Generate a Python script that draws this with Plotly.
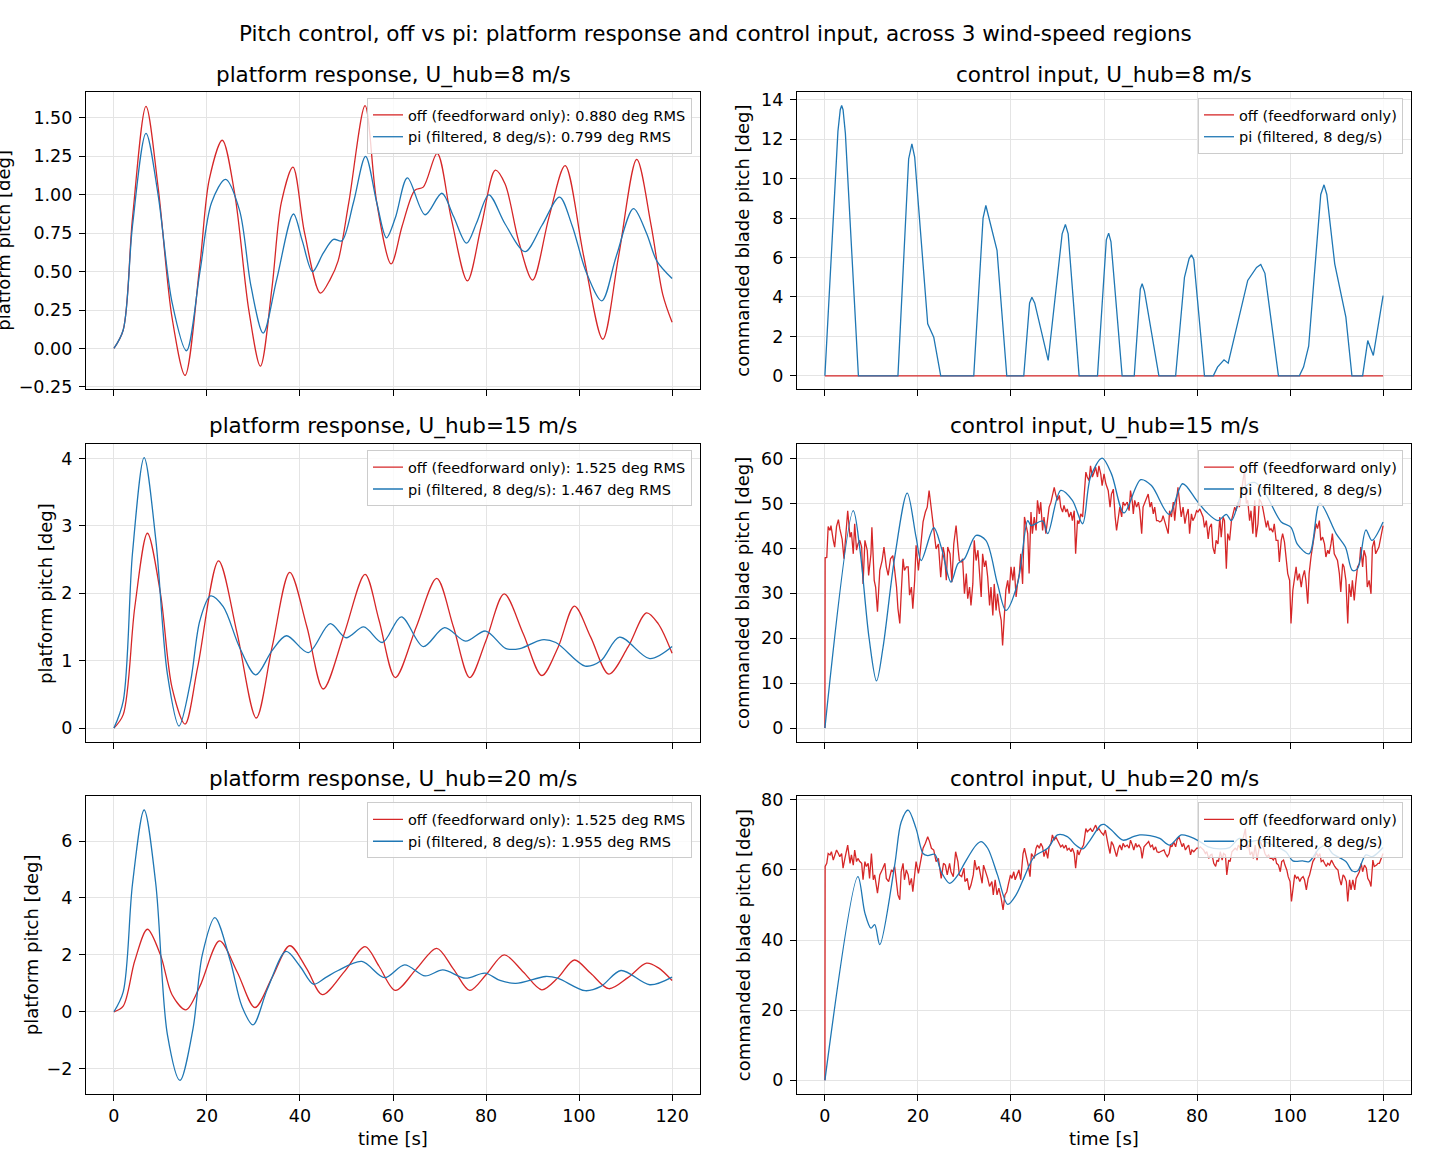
import plotly.graph_objects as go

# ---------------- data (time [s], value) ----------------
time_ticks = [0, 20, 40, 60, 80, 100, 120]

tl_off = [(0,0),(2,0.12),(4,0.85),(6.9,1.575),(9.5,1.05),(12.5,0.2),(15.3,-0.175),(18.5,0.55),(20.5,1.1),(23.3,1.355),(26,1.0),(29,0.25),(31.5,-0.115),(34,0.4),(36,0.95),(38.5,1.18),(41,0.75),(44.4,0.36),(46.5,0.45),(48.2,0.57),(50.5,0.95),(54,1.58),(56.5,0.95),(59.6,0.55),(62,0.8),(64.7,1.03),(66.5,1.05),(69.5,1.27),(72.5,0.85),(76,0.44),(79,0.8),(82,1.16),(84.1,1.07),(87,0.7),(90,0.445),(93.5,0.85),(97,1.19),(101,0.6),(105.1,0.06),(108.5,0.6),(112.4,1.23),(115.5,0.8),(118,0.35),(120,0.17)]
tl_pi = [(0,0),(2,0.12),(4,0.8),(6.9,1.40),(9.5,1.0),(12.5,0.3),(15.6,-0.015),(18.5,0.5),(21,0.95),(24,1.10),(27,0.9),(29.5,0.4),(32.1,0.10),(35,0.45),(38.6,0.875),(40.5,0.7),(42.7,0.50),(45,0.62),(47.2,0.71),(49,0.70),(51.5,0.95),(54.1,1.25),(56.5,0.95),(58.6,0.72),(60.5,0.85),(63.1,1.11),(66.9,0.87),(70.5,1.01),(73,0.86),(75.8,0.685),(78,0.82),(80.6,1.0),(84.1,0.81),(88.4,0.63),(92,0.8),(95.8,0.985),(98.5,0.8),(101.5,0.5),(104.9,0.31),(108,0.6),(111.7,0.91),(114.5,0.75),(116.7,0.57),(120,0.455)]

tr_off = [(0,0),(120,0)]
tr_pi = [(0,0),(2.8,12.4),(3.3,13.5),(3.6,13.71),(3.9,13.5),(4.4,12.3),(7.2,0),(15.7,0),(18.0,11.0),(18.7,11.77),(19.3,11.1),(22.1,2.64),(23.4,1.96),(24.9,0),(32.0,0),(34.0,8.0),(34.6,8.64),(35.2,8.1),(37,6.36),(39.1,0),(42.75,0),(44.0,3.7),(44.5,3.99),(45.1,3.7),(48,0.78),(51.0,7.2),(51.7,7.68),(52.3,7.2),(54.65,0),(58.6,0),(60.5,6.9),(61,7.24),(61.5,6.8),(63.9,0),(66.5,0),(67.8,4.4),(68.2,4.67),(68.7,4.3),(71.8,0),(75.4,0),(77.3,5.0),(78.3,5.95),(78.8,6.14),(79.3,5.9),(81.6,0),(83.5,0),(84.4,0.44),(85.8,0.81),(86.7,0.64),(90.9,4.84),(92.8,5.5),(93.7,5.65),(94.6,5.2),(97.5,0),(102,0),(102.9,0.44),(104,1.5),(106.6,9.2),(107.3,9.69),(107.9,9.2),(109.6,5.68),(112,2.98),(113.3,0),(115.6,0),(116.7,1.79),(117.9,1.03),(120,4.07)]

ml_off = [(0,0),(2,0.2),(4.5,1.8),(7.2,2.89),(10,2.0),(12.5,0.6),(15.3,0.06),(18,0.9),(22.5,2.48),(26.5,1.4),(30.6,0.15),(34,1.2),(37.8,2.31),(41.5,1.5),(45.0,0.58),(49.5,1.4),(54.0,2.28),(57,1.6),(60.5,0.75),(65,1.5),(69.4,2.22),(73,1.5),(76.5,0.75),(80,1.3),(83.9,1.99),(88,1.4),(92,0.78),(95.5,1.2),(99,1.81),(102.5,1.35),(106.4,0.80),(110.5,1.2),(114.5,1.71),(117,1.55),(120,1.11)]
ml_pi = [(0,0),(2,0.4),(4,2.6),(6.5,4.01),(9,2.8),(11.5,0.8),(14.0,0.03),(16.5,0.7),(18.5,1.6),(20.8,1.96),(23.5,1.80),(27,1.2),(30.5,0.79),(34,1.15),(37.1,1.37),(41.8,1.12),(46.5,1.55),(49.9,1.34),(53.7,1.50),(57.7,1.27),(61.8,1.65),(66.5,1.21),(71.1,1.49),(75.6,1.29),(79.9,1.44),(84.3,1.18),(87.3,1.18),(92,1.31),(95,1.27),(101.3,0.92),(104.7,1.0),(108.7,1.35),(115.2,1.03),(120,1.21)]

mr_off = [(0,0),(0.05,37.9),(0.4,38),(0.7,44.9),(1.1,44),(1.3,45.1),(1.8,41.8),(2.1,40.3),(2.5,44.9),(2.9,46.4),(3.2,44.4),(3.7,42.1),(4.1,37.7),(4.4,41.8),(4.9,48.4),(5.4,42.5),(5.7,43.6),(6.1,38.8),(6.4,45.5),(6.8,39.6),(7.1,41),(7.5,41.8),(7.9,40.3),(8.2,32.1),(8.6,41.8),(9.1,39.6),(9.4,34),(9.9,38.8),(10.1,44.7),(10.6,32.9),(10.9,31.4),(11.3,25.9),(11.8,35.1),(12.3,37.3),(12.7,40.3),(13.2,35.9),(13.6,34),(14.1,37.7),(14.6,38.4),(15,35.1),(15.4,31.4),(15.7,26.6),(16.1,23.3),(16.4,29.9),(16.8,37.7),(17.1,35.1),(17.5,35.9),(17.9,35.9),(18.2,29.6),(18.6,31.4),(18.9,26.6),(19.3,32.9),(19.6,40.7),(20.1,35.1),(20.6,41),(21.1,45.9),(21.6,48.1),(22,49.2),(22.4,52.9),(22.7,50.3),(23,47.7),(23.4,45.1),(23.9,39.9),(24.4,41),(24.9,33.6),(25.4,40.3),(25.7,38.8),(26.1,32.9),(26.4,40.3),(26.9,38.8),(27.3,32.5),(27.7,41),(28.2,45.1),(28.6,40.3),(28.9,37.3),(29.3,37),(29.6,37.7),(30,29.9),(30.4,34.4),(30.7,28.8),(31.1,31.4),(31.4,27.3),(31.8,32.1),(32.1,41.8),(32.5,37.3),(32.9,39.6),(33.2,35.1),(33.6,29.2),(33.9,38.8),(34.3,35.9),(34.6,37.3),(35,33.6),(35.4,27.3),(35.7,31.4),(36.1,25.1),(36.4,32.1),(36.8,26.2),(37.1,29.9),(37.5,26.2),(37.9,24),(38.2,18.4),(38.6,27),(38.9,30.7),(39.3,32.9),(39.6,29.9),(40,35.9),(40.4,32.9),(40.7,35.9),(41.1,29.2),(41.4,32.1),(41.8,34.4),(42.1,38.8),(42.5,32.1),(42.9,47),(43.2,45.5),(43.6,43.3),(43.9,34.4),(44.3,48.1),(44.6,43.3),(45,47),(45.4,44),(45.7,50.7),(46.1,47.7),(46.4,50.3),(46.8,44),(47.1,47),(47.5,43.3),(47.9,46.2),(48.2,49.2),(48.6,50.3),(48.9,51.8),(49.3,53.6),(49.6,52.1),(50,50.7),(50.4,51.8),(50.7,49.2),(51.1,48.1),(51.4,49.6),(51.8,48.1),(52.1,48.8),(52.5,47),(52.9,48.1),(53.2,46.2),(53.6,48.4),(53.9,38.8),(54.3,46.2),(54.6,45.5),(55,47.7),(55.4,47),(55.7,52.1),(56.1,57),(56.4,55.9),(56.8,55.1),(57.1,58.4),(57.5,55.9),(57.9,57),(58.2,58.1),(58.6,55.9),(58.9,58.4),(59.3,56.6),(59.6,54),(60,56.6),(60.4,54.4),(60.9,52.9),(61.3,49.2),(61.6,52.1),(62,53.2),(62.4,47),(62.7,44),(63.1,47),(63.4,49.2),(63.8,47),(64.1,50.3),(64.5,49.6),(65,50.3),(65.4,48.4),(65.7,52.9),(66.1,50.3),(66.3,47.7),(66.6,50.7),(67,49.2),(67.4,50.3),(67.7,48.4),(68.1,43.3),(68.4,49.2),(68.8,50.3),(69.1,51),(69.5,52.1),(69.9,49.2),(70.2,50.3),(70.6,47.7),(70.9,49.2),(71.3,46.2),(71.6,46.2),(72,45.9),(72.4,46.2),(72.7,47.3),(73.1,45.9),(73.4,44.7),(73.8,43.3),(74.1,48.4),(74.5,47),(74.9,50.3),(75.2,46.2),(75.6,50.7),(75.9,53.6),(76.3,49.9),(76.6,47),(77,49.2),(77.4,45.5),(77.7,47.3),(78.1,48.8),(78.4,43.3),(78.8,47.7),(79.1,46.2),(79.5,47),(79.9,48.4),(80.2,48.1),(80.6,48.8),(80.9,48.1),(81.3,47),(81.6,44.7),(82,46.2),(82.4,42.1),(82.7,44.7),(83.1,45.5),(83.4,40.3),(83.8,38.8),(84.1,41.8),(84.5,41),(84.9,47),(85.2,42.5),(85.6,47),(85.9,46.2),(86.3,35.5),(86.6,43.3),(87,41.8),(87.4,46.2),(87.7,47.7),(88.1,49.2),(88.4,48.4),(88.8,50.3),(89.1,49.2),(89.5,52.1),(89.9,55.1),(90.2,57.5),(90.6,50),(90.9,50.7),(91.3,46.2),(91.6,48.4),(92,43.3),(92.4,50.7),(92.7,42.5),(93.1,45.5),(93.4,51),(93.8,50.3),(94.1,49.2),(94.5,47),(94.9,44.7),(95.2,46.2),(95.6,44),(95.9,44.4),(96.3,43.6),(96.6,45.5),(97,41.8),(97.4,41.8),(97.7,37),(98.1,41.8),(98.4,43.3),(98.8,41.4),(99.1,38.1),(99.5,34.4),(99.9,32.9),(100.2,23.3),(100.6,30.7),(100.9,33.6),(101.3,35.9),(101.6,32.9),(102,34.4),(102.4,31.4),(102.7,33.6),(103.1,35.1),(103.4,32.9),(103.8,27.7),(104.1,34.4),(104.5,38.1),(104.9,41),(105.2,43.3),(105.6,45.5),(105.9,44.4),(106.3,46.2),(106.6,41.8),(107,42.5),(107.4,41),(107.7,38.1),(108.1,39.6),(108.4,38.8),(108.8,41),(109.1,43.3),(109.5,38.8),(109.9,38.1),(110.2,37.3),(110.6,34.4),(110.9,30.3),(111.3,36.6),(111.6,35.9),(112,32.9),(112.4,23.3),(112.7,32.1),(113.1,29.2),(113.4,32.9),(113.8,28.4),(114.1,32.1),(114.5,35.9),(114.9,36.6),(115.2,40.3),(115.6,35.9),(115.9,39.6),(116.3,38.1),(116.6,31.4),(117,32.9),(117.4,29.9),(117.7,40.3),(118.1,41.8),(118.4,38.8),(118.8,39.6),(119.1,40.3),(120,45.1)]
mr_pi = [(0,0),(6.1,48.4),(7.5,40),(9.5,20),(11.1,10.5),(12.5,18),(15,38),(17.7,52.3),(19.6,42.5),(20.7,37.3),(23.4,44.6),(25,40.3),(27.1,32.5),(28.6,36.6),(30,37.7),(32.5,42.9),(34.6,41.8),(37.1,32.1),(38.9,26.2),(41.4,32.1),(43.6,46.2),(44.3,45.1),(46.8,46.1),(47.9,43.3),(50.7,52.9),(53.2,50.7),(55.4,45.5),(57.1,55.9),(59.6,60.1),(61.6,56.6),(64.3,47.9),(67.9,55.3),(70.2,54),(74,47.6),(76.9,54.4),(79.9,50.7),(82,48.1),(84.5,46.2),(86.3,47.6),(87.4,46.2),(90.2,53.6),(92.4,54.7),(94.9,51.8),(98.1,45.9),(100.2,44.7),(101.6,40.9),(104.1,38.8),(106.4,50.1),(109.9,43.3),(111.9,40.3),(113.4,35.1),(114.5,35.5),(116.3,44.1),(117.6,41.8),(120,45.9)]

bl_off = [(0,0),(2,0.2),(4.5,1.8),(7.2,2.90),(10,2.0),(12.5,0.6),(15.5,0.07),(18.5,0.9),(22.7,2.49),(26.5,1.4),(30.3,0.15),(34,1.2),(37.8,2.32),(41.5,1.5),(44.8,0.60),(49.5,1.4),(54.0,2.29),(57,1.6),(60.5,0.75),(65,1.5),(69.4,2.23),(73,1.5),(76.5,0.75),(80,1.3),(83.9,2.0),(88,1.4),(92,0.77),(95.5,1.2),(99,1.82),(102.5,1.35),(106.4,0.81),(110.5,1.2),(114.5,1.71),(117,1.55),(120,1.10)]
bl_pi = [(0,0),(2,0.7),(4,4.5),(6.5,7.09),(9,4.5),(11.5,-0.8),(14.2,-2.41),(17,-0.6),(19,2.0),(21.7,3.31),(25,1.8),(27.5,0.2),(29.9,-0.46),(33,0.8),(37.0,2.12),(40,1.6),(42.9,0.97),(45.5,1.2),(48.2,1.45),(53.3,1.77),(58.2,1.20),(62.5,1.65),(66.9,1.26),(70.7,1.47),(75.6,1.18),(79.8,1.36),(83,1.1),(86.4,1.0),(92.8,1.24),(95.4,1.18),(101.3,0.74),(104.7,0.89),(109,1.45),(115.2,0.95),(120,1.22)]

br_off = [(0,0),(0.05,61),(0.4,61.9),(0.7,64.7),(1.1,64.3),(1.4,65.2),(1.8,62.8),(2.1,63.8),(2.5,65.7),(2.9,64.7),(3.2,63.8),(3.6,64.7),(3.9,60.5),(4.3,63.3),(4.9,67.1),(5.4,61.9),(5.7,64.3),(6.1,61.4),(6.4,65.7),(6.8,62.4),(7.1,63.3),(7.5,62.4),(7.9,61.9),(8.2,57.2),(8.6,62.4),(8.9,61),(9.3,61.9),(9.6,57.6),(10,64.7),(10.4,57.2),(10.7,58.6),(11.3,53.4),(11.8,58.6),(12.3,60),(12.9,61.9),(13.2,57.6),(13.7,56.7),(14.3,60),(14.6,59.5),(15,61),(15.4,56.2),(15.7,52.9),(16.1,51.5),(16.4,59.5),(16.8,61.9),(17.1,57.2),(17.5,60),(17.9,58.6),(18.2,55.7),(18.6,57.6),(18.9,53.8),(19.3,58.6),(19.6,62.4),(20.1,59),(20.6,62.8),(21.1,66.2),(21.6,67.6),(22.1,69.5),(22.5,68.1),(22.9,66.2),(23.4,65.7),(23.9,62.4),(24.4,63.3),(25,57.6),(25.5,61.9),(25.9,61.4),(26.3,58.6),(26.8,61.9),(27.1,59.5),(27.6,58.1),(28.1,65.2),(28.6,62.4),(28.9,58.6),(29.4,58.1),(29.9,60.5),(30.1,56.7),(30.6,57.6),(31,54.3),(31.4,55.7),(31.9,58.6),(32.2,62.8),(32.6,60),(33.1,61),(33.4,59),(33.8,56.2),(34.1,61.4),(34.6,59.5),(35,57.6),(35.4,55.3),(35.9,56.7),(36.2,52.9),(36.6,57.2),(37,52.9),(37.4,54.8),(37.9,51.9),(38.3,48.6),(38.7,52.9),(39.1,53.8),(39.4,55.7),(39.9,58.6),(40.2,57.6),(40.6,59.5),(40.9,57.2),(41.3,58.6),(41.7,60),(42.1,57.2),(42.6,64.7),(42.9,66.2),(43.4,63.3),(43.7,61.4),(44.1,58.1),(44.4,64.7),(45,63.3),(45.4,66.2),(45.7,67.1),(46.1,66.2),(46.4,67.6),(46.8,66.6),(47.1,63.8),(47.5,65.7),(47.9,63.3),(48.2,66.6),(48.6,67.6),(48.9,70),(49.3,68.5),(49.6,69.5),(50,68.5),(50.4,67.6),(50.7,66.6),(51.1,67.1),(51.4,66.2),(51.8,67.1),(52.1,65.7),(52.5,66.2),(52.9,65.2),(53.2,66.2),(53.6,64.7),(53.9,60.5),(54.3,65.7),(54.6,64.3),(55,65.7),(55.6,67.1),(56.1,71.8),(56.4,70.9),(56.8,71.4),(57.1,71.8),(57.5,70.9),(57.9,72.3),(58.2,72.8),(58.6,71.4),(58.9,71.8),(59.4,70.7),(59.9,70),(60.3,71.4),(60.6,69),(60.9,67.1),(61.3,64.7),(61.6,68.1),(62,67.1),(62.4,65.2),(62.7,63.8),(63.1,66.2),(63.4,67.1),(63.8,65.7),(64.1,67.6),(64.5,66.6),(65,67.1),(65.4,66.2),(65.7,68.5),(66.1,67.1),(66.4,65.7),(66.8,67.6),(67.1,66.6),(67.5,67.1),(67.9,66.2),(68.2,63.3),(68.6,66.6),(68.9,67.1),(69.3,67.6),(69.6,68.1),(70,66.6),(70.4,67.1),(70.7,65.7),(71.1,66.6),(71.4,65.2),(71.8,65),(72.1,65.2),(72.5,65.4),(72.9,65.7),(73.2,64.7),(73.6,63.8),(74,64.7),(74.3,67.1),(74.6,66.6),(75,68),(75.4,66.6),(75.7,68.5),(76.1,69.5),(76.4,68.1),(76.8,66.6),(77.1,67.6),(77.5,65.7),(77.9,66.6),(78.2,67.1),(78.6,64.3),(78.9,65.7),(79.3,65.2),(79.6,65.7),(80,66.3),(80.4,66.1),(80.7,66.6),(81.1,66.1),(81.4,65.7),(81.8,64.7),(82.1,65.2),(82.5,63.3),(82.9,64.3),(83.2,64.5),(83.6,61.9),(84,61),(84.3,62.8),(84.6,62.4),(85,65.2),(85.4,62.8),(85.7,64.7),(86.1,64.3),(86.4,58.6),(86.8,62.8),(87.1,62.4),(87.5,65.2),(87.9,65.7),(88.2,66.2),(88.6,65.7),(88.9,67.1),(89.3,66.2),(89.6,68.1),(90,69.5),(90.4,71.8),(90.7,66.2),(91.1,67.1),(91.4,64.3),(91.8,65.2),(92.1,63.3),(92.5,67.1),(92.9,62.8),(93.2,64.7),(93.6,68.1),(93.9,67.1),(94.3,66.2),(94.6,64.7),(95,63.8),(95.4,64.3),(95.7,63.3),(96.1,63.3),(96.4,62.8),(96.8,63.8),(97.1,61.9),(97.5,61.4),(97.9,59.5),(98.2,62.4),(98.6,62.8),(98.9,61.4),(99.3,60),(99.6,58.1),(100,56.7),(100.3,51),(100.6,54.8),(101,58.6),(101.4,57.6),(101.7,58.1),(102.1,56.7),(102.4,57.6),(102.8,58.1),(103.1,57.2),(103.5,54.3),(103.9,57.6),(104.2,58.6),(104.6,60.9),(104.9,62.4),(105.3,63.3),(105.6,65.2),(106,63.8),(106.4,64.7),(106.7,62.4),(107.1,62.8),(107.4,61.9),(107.8,61),(108.1,61.9),(108.5,61.4),(108.9,62.8),(109.2,61.9),(109.6,61),(109.9,60.5),(110.3,60),(110.6,57.6),(111,55.7),(111.4,58.6),(111.7,58.1),(112.1,56.7),(112.4,51),(112.8,57.2),(113.1,54.3),(113.5,57.2),(113.9,54.3),(114.2,57.6),(114.6,58.6),(114.9,59.5),(115.3,61.9),(115.6,59.5),(116,61.4),(116.4,60.5),(116.7,57.6),(117.1,56.7),(117.4,55.3),(117.8,62.8),(118.1,61),(118.6,61.4),(118.9,61.9),(119.2,61.9),(120,64.7)]
br_pi = [(0,0),(7.1,58.1),(8.6,47.7),(9.9,43.4),(10.7,44.4),(11.8,38.7),(15,61.4),(16.4,73.7),(17.9,77.1),(19.6,71.8),(21.1,64.7),(22.1,64.1),(23.6,64.5),(25,59.5),(26.8,56.2),(28.6,58.6),(30,61.9),(32.5,67.1),(33.6,68.1),(35,66.2),(37.1,58.6),(39.3,50.2),(41.1,52.9),(42.9,58.1),(45,63.8),(47.9,66.2),(50,70),(52.1,69.5),(53.9,67.1),(55.4,66),(56.8,68.1),(59.3,72.8),(60,73),(61.6,71.4),(64.1,68.5),(66.3,69.5),(67.7,70),(69.9,69.8),(72,69),(74.1,67.1),(76.6,70),(78.4,69.5),(80.6,68.1),(82.4,66.6),(84.9,66),(87,66.4),(89.1,69),(91.3,68.1),(93.4,68.5),(96.3,67.1),(99.1,65.2),(100.6,62.6),(102.7,62.6),(104.1,62.4),(106.3,66.2),(107.7,67.1),(109.1,64.7),(112,62.4),(113.4,59.7),(114.5,59.7),(116.3,64.3),(117.7,63.8),(120,66.4)]

suptitle = "Pitch control, off vs pi: platform response and control input, across 3 wind-speed regions"
panel_titles = ["platform response, U_hub=8 m/s", "control input, U_hub=8 m/s",
                "platform response, U_hub=15 m/s", "control input, U_hub=15 m/s",
                "platform response, U_hub=20 m/s", "control input, U_hub=20 m/s"]
legend_names = [("off (feedforward only): 0.880 deg RMS", "pi (filtered, 8 deg/s): 0.799 deg RMS"),
                ("off (feedforward only)", "pi (filtered, 8 deg/s)"),
                ("off (feedforward only): 1.525 deg RMS", "pi (filtered, 8 deg/s): 1.467 deg RMS"),
                ("off (feedforward only)", "pi (filtered, 8 deg/s)"),
                ("off (feedforward only): 1.525 deg RMS", "pi (filtered, 8 deg/s): 1.955 deg RMS"),
                ("off (feedforward only)", "pi (filtered, 8 deg/s)")]
y_ticks = [[-0.25, 0.0, 0.25, 0.5, 0.75, 1.0, 1.25, 1.5],
           [0, 2, 4, 6, 8, 10, 12, 14],
           [0, 1, 2, 3, 4],
           [0, 10, 20, 30, 40, 50, 60],
           [-2, 0, 2, 4, 6],
           [0, 20, 40, 60, 80]]
y_fmt = [".2f", "d", "d", "d", "d", "d"]
y_ranges = [[-0.266, 1.669], [-0.686, 14.40], [-0.20, 4.21], [-3.01, 63.2], [-2.885, 7.565], [-3.86, 80.96]]
y_labels = ["platform pitch [deg]", "commanded blade pitch [deg]"] * 3
series = [(tl_off, tl_pi), (tr_off, tr_pi), (ml_off, ml_pi), (mr_off, mr_pi), (bl_off, bl_pi), (br_off, br_pi)]
shapes = [("spline", "spline"), ("linear", "linear"), ("spline", "spline"),
          ("linear", "spline"), ("spline", "spline"), ("linear", "spline")]

# ---------------- layout geometry ----------------
W, H = 1430, 1170
RED, BLUE = "#d62728", "#1f77b4"
FONT = "DejaVu Sans"
col_px = [(86, 700), (797, 1411)]
row_px = [(91, 389), (444, 742), (797, 1095)]
ylab_x = [4, 743, 46, 743, 31, 743]
title_y = [74, 426, 779]


def py(y):
    # vertical pixel position of the target, corrected for the capture's slight vertical squeeze
    return -4.9 + 1.01 * y


def yp(y):
    return 1 - py(y) / H


fig = go.Figure()
layout = dict(width=W, height=H, margin=dict(l=0, r=0, t=0, b=0), autosize=False,
              plot_bgcolor="white", paper_bgcolor="white",
              font=dict(family=FONT, color="black", size=17.5))
annotations = []

for k in range(6):
    r, c = divmod(k, 2)
    n = k + 1
    xs = "" if n == 1 else str(n)
    x0, x1 = col_px[c]
    y0, y1 = row_px[r]
    leg = "legend" if n == 1 else f"legend{n}"
    off, pi = series[k]
    for pts, name, color, shp in ((off, legend_names[k][0], RED, shapes[k][0]),
                                  (pi, legend_names[k][1], BLUE, shapes[k][1])):
        t = [p[0] for p in pts]
        v = [p[1] for p in pts]
        line = dict(color=color, width=1.3, shape=shp)
        if shp == "spline":
            line["smoothing"] = 0.9
        fig.add_trace(go.Scatter(x=t, y=v, mode="lines", name=name, line=line,
                                 xaxis="x" + xs, yaxis="y" + xs, legend=leg))
    axis_common = dict(showline=True, mirror=True, linecolor="black", linewidth=1.3,
                       ticks="outside", ticklen=6, tickwidth=1.3, tickcolor="black",
                       showgrid=True, gridcolor="#e4e4e4", gridwidth=1, zeroline=False,
                       tickfont=dict(family=FONT, size=17.5, color="black"))
    layout["xaxis" + xs] = dict(axis_common, domain=[x0 / W, x1 / W], anchor="y" + xs,
                                range=[-6.0, 126.0], tickmode="array", tickvals=time_ticks,
                                ticktext=[str(v) for v in time_ticks], showticklabels=(r == 2))
    layout["yaxis" + xs] = dict(axis_common, domain=[yp(y1), yp(y0)], anchor="x" + xs,
                                range=y_ranges[k], tickmode="array", tickvals=y_ticks[k],
                                tickformat=y_fmt[k], ticklabelstandoff=3)
    layout[leg] = dict(x=(x1 - 8) / W, y=yp(y0 + 6), xanchor="right", yanchor="top",
                       xref="paper", yref="paper",
                       bgcolor="rgba(255,255,255,0.8)", bordercolor="#cccccc", borderwidth=1,
                       font=dict(family=FONT, size=14.5, color="black"), itemwidth=30,
                       tracegroupgap=0)
    annotations.append(dict(text=panel_titles[k], x=(x0 + x1) / 2 / W, y=yp(title_y[r]),
                            xref="paper", yref="paper", xanchor="center", yanchor="middle",
                            showarrow=False, font=dict(family=FONT, size=21.5, color="black")))
    annotations.append(dict(text=y_labels[k], x=ylab_x[k] / W, y=yp((y0 + y1) / 2),
                            xref="paper", yref="paper", xanchor="center", yanchor="middle",
                            textangle=-90, showarrow=False,
                            font=dict(family=FONT, size=18, color="black")))
    if r == 2:
        annotations.append(dict(text="time [s]", x=(x0 + x1) / 2 / W, y=yp(1140),
                                xref="paper", yref="paper", xanchor="center", yanchor="middle",
                                showarrow=False, font=dict(family=FONT, size=18, color="black")))

annotations.append(dict(text=suptitle, x=715 / W, y=yp(32), xref="paper", yref="paper",
                        xanchor="center", yanchor="middle", showarrow=False,
                        font=dict(family=FONT, size=21.5, color="black")))
layout["annotations"] = annotations
fig.update_layout(**layout)
fig.write_html("out.html")
